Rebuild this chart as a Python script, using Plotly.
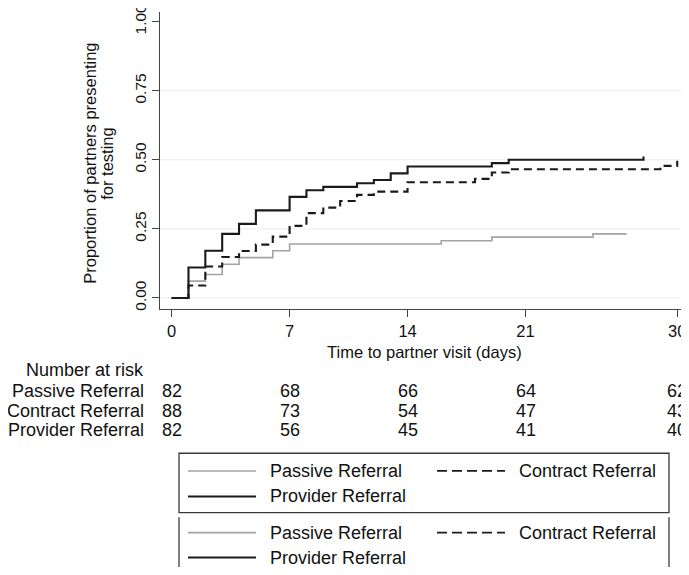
import plotly.graph_objects as go

# ---------------- data ----------------
passive_t = [0, 1, 2, 3, 4, 6, 7, 16, 19, 25, 27]
passive_v = [0, 0.061, 0.085, 0.122, 0.146, 0.171, 0.195, 0.207, 0.220, 0.232, 0.232]

contract_t = [0, 1, 2, 3, 4, 5, 6, 7, 8, 9, 10, 11, 12, 14, 18, 19, 20, 29, 30]
contract_v = [0, 0.045, 0.114, 0.148, 0.170, 0.193, 0.222, 0.261, 0.307, 0.327,
              0.351, 0.373, 0.385, 0.419, 0.431, 0.454, 0.466, 0.478, 0.497]

provider_t = [0, 1, 2, 3, 4, 5, 7, 8, 9, 11, 12, 13, 14, 19, 20, 28]
provider_v = [0, 0.110, 0.171, 0.232, 0.268, 0.317, 0.366, 0.390, 0.402, 0.415,
              0.427, 0.451, 0.476, 0.488, 0.500, 0.512]

x_ticks = [0, 7, 14, 21, 30]
y_ticks = [0, 0.25, 0.50, 0.75, 1.00]
y_ticktext = ["0.00", "0.25", "0.50", "0.75", "1.00"]
grid_vals = [0, 0.25, 0.50, 0.75]

risk_groups = ["Passive Referral", "Contract Referral", "Provider Referral"]
risk_passive = [82, 68, 66, 64, 62]
risk_contract = [88, 73, 54, 47, 43]
risk_provider = [82, 56, 45, 41, 40]

legend_labels = ["Passive Referral", "Contract Referral", "Provider Referral"]

# ---------------- layout helpers ----------------
OFF = 8                      # page body margin
W, H = 689 - OFF, 575 - 2 * OFF
PLOT_LEFT, PLOT_RIGHT, PLOT_TOP, PLOT_BOTTOM = 160, 688, 12, 309.5   # page pixels
L = PLOT_LEFT - OFF
T = PLOT_TOP - OFF
R = W - (PLOT_RIGHT - OFF)
B = H - (PLOT_BOTTOM - OFF)
PW, PH = W - L - R, H - T - B
FONT = "Liberation Sans, Arial, Helvetica, sans-serif"


def px(xp):
    return (xp - PLOT_LEFT) / PW


def py(yp):
    return (PLOT_BOTTOM - yp) / PH


GRAY = "#a3a3a3"
BLACK = "#1a1a1a"
DASH = "8px,5px"

fig = go.Figure()
fig.add_trace(go.Scatter(x=passive_t, y=passive_v, mode="lines", line_shape="hv",
                         line=dict(color=GRAY, width=1.6), name=legend_labels[0]))
fig.add_trace(go.Scatter(x=contract_t, y=contract_v, mode="lines", line_shape="hv",
                         line=dict(color=BLACK, width=2.1, dash=DASH), name=legend_labels[1]))
fig.add_trace(go.Scatter(x=provider_t, y=provider_v, mode="lines", line_shape="hv",
                         line=dict(color=BLACK, width=2.1), name=legend_labels[2]))

shapes = []
for g in grid_vals:
    shapes.append(dict(type="line", xref="paper", yref="y", x0=0, x1=1, y0=g, y1=g,
                       line=dict(color="#e6eef0", width=1), layer="below"))

annotations = []
# axis titles
annotations.append(dict(text="Time to partner visit (days)", xref="paper", yref="paper",
                        x=0.5, y=py(353), xanchor="center", yanchor="middle",
                        showarrow=False, font=dict(size=16.5, color="#111", family=FONT)))
annotations.append(dict(text="Proportion of partners presenting", xref="paper", yref="paper",
                        x=px(90), y=py(164), xanchor="center", yanchor="middle", textangle=-90,
                        showarrow=False, font=dict(size=16.5, color="#111", family=FONT)))
annotations.append(dict(text="for testing", xref="paper", yref="paper",
                        x=px(107), y=py(164), xanchor="center", yanchor="middle", textangle=-90,
                        showarrow=False, font=dict(size=16.5, color="#111", family=FONT)))

# number at risk table
tfont = dict(size=18, color="#111", family=FONT)
annotations.append(dict(text="Number at risk", xref="paper", yref="paper", x=px(146), y=py(371),
                        xanchor="right", yanchor="middle", showarrow=False, font=tfont))
row_y = [391.5, 411.5, 431]
for name, vals, yy in zip(risk_groups, [risk_passive, risk_contract, risk_provider], row_y):
    annotations.append(dict(text=name, xref="paper", yref="paper", x=px(146), y=py(yy),
                            xanchor="right", yanchor="middle", showarrow=False, font=tfont))
    for t, v in zip(x_ticks, vals):
        annotations.append(dict(text=str(v), xref="x", yref="paper", x=t, y=py(yy),
                                xanchor="center", yanchor="middle", showarrow=False, font=tfont))

# legend boxes
box_col = "#3a3a3a"
shapes.append(dict(type="rect", xref="paper", yref="paper", x0=px(179), x1=px(669),
                   y0=py(454), y1=py(513.5), line=dict(color=box_col, width=1.3)))
shapes.append(dict(type="line", xref="paper", yref="paper", x0=px(179), x1=px(179),
                   y0=py(518), y1=py(580), line=dict(color=box_col, width=1.3)))
shapes.append(dict(type="line", xref="paper", yref="paper", x0=px(669), x1=px(669),
                   y0=py(518), y1=py(580), line=dict(color=box_col, width=1.3)))

styles = [dict(color=GRAY, width=1.6), dict(color=BLACK, width=1.8, dash="10px,5px"),
          dict(color=BLACK, width=2)]
for r1, r2 in [(471.7, 497.3), (533.5, 558.5)]:
    pos = [(188, 256, 268, r1), (437, 505, 517, r1), (188, 256, 268, r2)]
    for (xa, xb, xt, yy), lab, st in zip(pos, legend_labels, styles):
        shapes.append(dict(type="line", xref="paper", yref="paper", x0=px(xa), x1=px(xb),
                           y0=py(yy), y1=py(yy), line=st))
        annotations.append(dict(text=lab, xref="paper", yref="paper", x=px(xt), y=py(yy),
                                xanchor="left", yanchor="middle", showarrow=False, font=tfont))

fig.update_layout(
    width=W, height=H, margin=dict(l=L, r=R, t=T, b=B, autoexpand=False),
    paper_bgcolor="white", plot_bgcolor="white", showlegend=False,
    font=dict(family=FONT, size=16, color="#111"),
    shapes=shapes, annotations=annotations,
    xaxis=dict(range=[-0.69, 30.64], tickvals=x_ticks, ticktext=[str(t) for t in x_ticks],
               showgrid=False, zeroline=False, showline=True, linecolor="#444", linewidth=1.2,
               ticks="outside", ticklen=7, tickcolor="#444", tickwidth=1.2,
               ticklabeloverflow="allow",
               tickfont=dict(size=16.5, family=FONT, color="#111")),
    yaxis=dict(range=[-0.04, 1.035], tickvals=y_ticks, ticktext=y_ticktext, tickangle=-90,
               showgrid=False, zeroline=False, showline=True, linecolor="#444", linewidth=1.2,
               ticks="outside", ticklen=7, tickcolor="#444", tickwidth=1.2,
               ticklabeloverflow="allow",
               tickfont=dict(size=15.5, family=FONT, color="#111")),
)

fig.write_html("out.html",
               post_script="document.documentElement.style.overflow='hidden';"
                           "document.body.style.overflow='hidden';"
                           "var s=document.querySelectorAll('svg.main-svg');"
                           "for(var i=0;i<s.length;i++){s[i].style.overflow='visible';}")
